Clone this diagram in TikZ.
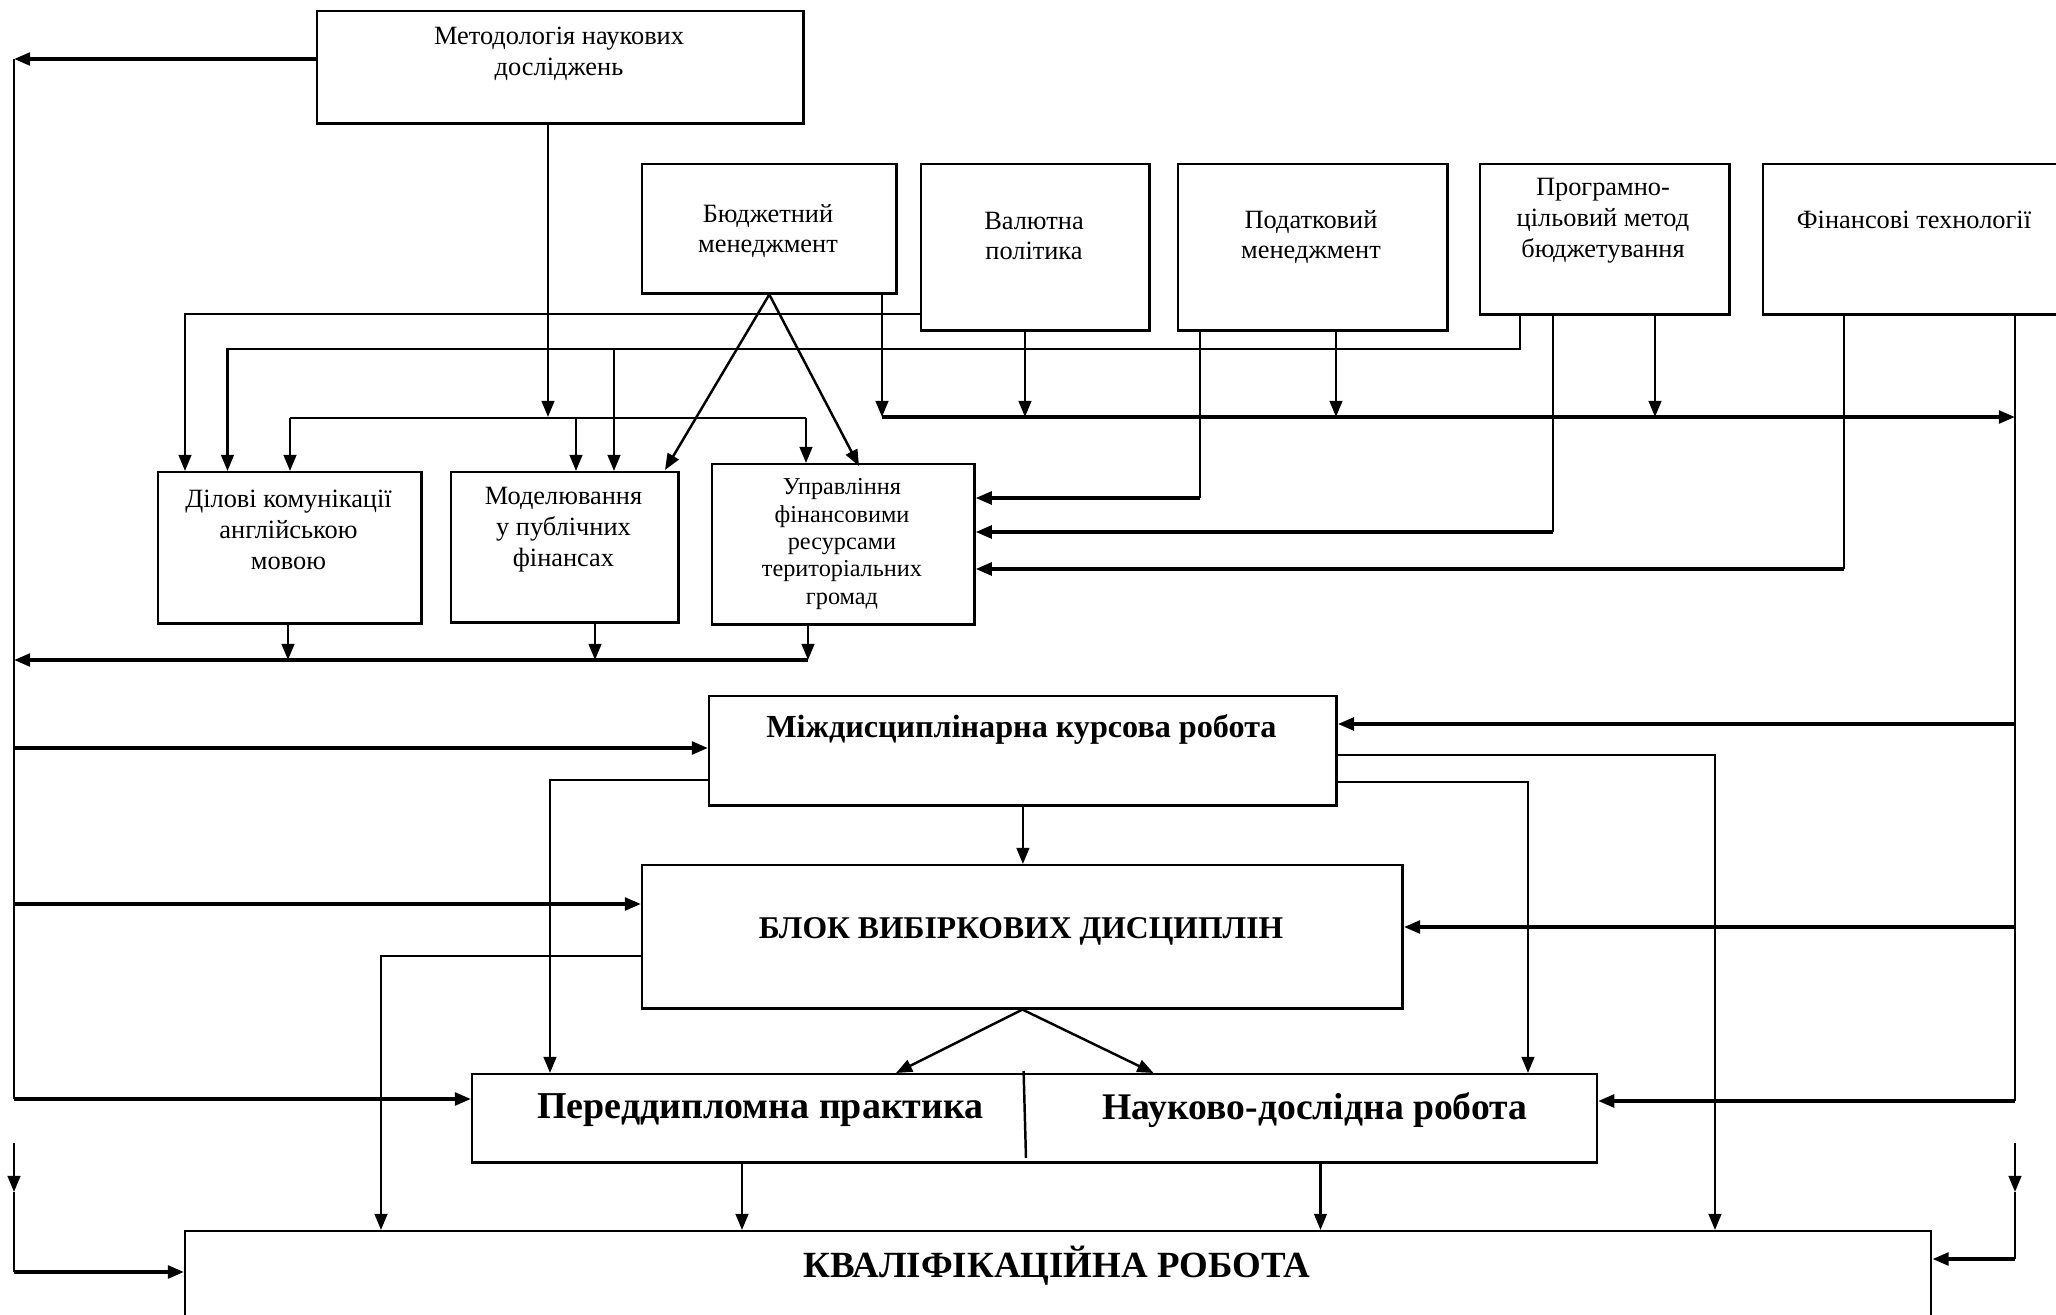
\documentclass[tikz,border=0pt]{standalone}
\usepackage{fontspec}
\setmainfont{Liberation Serif}
\usetikzlibrary{arrows.meta,calc}
\begin{document}
\begin{tikzpicture}[x=0.01cm,y=-0.01cm,
  box/.style={draw, line width=0.7pt, anchor=north west, inner sep=0pt},
  lbl/.style={align=center, font=\fontsize{7.5}{8.8}\selectfont, inner sep=0pt},
  lblsm/.style={align=center, font=\fontsize{6.9}{7.8}\selectfont, inner sep=0pt},
  bt/.style={inner sep=0pt, font=\bfseries\fontsize{#1}{#1}\selectfont},
  ln/.style={line width=0.7pt},
  hl/.style={line width=1pt},
  arr/.style={-{Triangle[length=4.6pt,width=3.6pt]}},
]
\clip (0,0) rectangle (2056,1315);
\fill[white] (0,0) rectangle (2056,1315);

% boxes
\node[box, minimum width=4.86cm, minimum height=1.12cm] (meth) at (316,10) {};
\node[box, minimum width=2.54cm, minimum height=1.29cm] (budg) at (641,163) {};
\node[box, minimum width=2.28cm, minimum height=1.66cm] (val) at (920,163) {};
\node[box, minimum width=2.69cm, minimum height=1.66cm] (tax) at (1177,163) {};
\node[box, minimum width=2.49cm, minimum height=1.50cm] (prog) at (1479,163) {};
\node[box, minimum width=3.04cm, minimum height=1.50cm] (fin) at (1762,163) {};
\node[box, minimum width=2.63cm, minimum height=1.51cm] (del) at (157,471) {};
\node[box, minimum width=2.27cm, minimum height=1.50cm] (mod) at (450,471) {};
\node[box, minimum width=2.62cm, minimum height=1.60cm] (upr) at (711,463) {};
\node[box, minimum width=6.27cm, minimum height=1.09cm] (mkr) at (708,695) {};
\node[box, minimum width=7.60cm, minimum height=1.43cm] (blok) at (641,864) {};
\node[box, minimum width=11.24cm, minimum height=0.88cm] (pp) at (471,1073) {};
\node[box, minimum width=17.45cm, minimum height=1.10cm] (kval) at (184,1230) {};

% labels
\node[lbl] (meth-t) at (559,54) {Методологія наукових\\досліджень};
\node[lbl] (budg-t) at (768,231) {Бюджетний\\менеджмент};
\node[lbl] (val-t) at (1034,236) {Валютна\\політика};
\node[lbl] (tax-t) at (1311,237) {Податковий\\менеджмент};
\node[lbl] (prog-t) at (1603,221) {Програмно-\\цільовий метод\\бюджетування};
\node[lbl] (fin-t) at (1914,220) {Фінансові технології};
\node[lbl] (del-t) at (288.5,529.5) {Ділові комунікації\\англійською\\мовою};
\node[lbl] (mod-t) at (563.5,529.5) {Моделювання\\у публічних\\фінансах};
\node[lblsm] (upr-t) at (842,544) {Управління\\фінансовими\\ресурсами\\територіальних\\громад};
\node[bt=9.15] (mkr-t) at (1021.5,729) {Міждисциплінарна курсова робота};
\node[bt=9.0] (blok-t) at (1021,931) {БЛОК ВИБІРКОВИХ ДИСЦИПЛІН};
\node[bt=10.8] (pp-t1) at (760.5,1110) {Переддипломна практика};
\node[bt=10.7] (pp-t2) at (1315,1110) {Науково-дослідна робота};
\node[bt=10.5] (kval-t) at (1057,1266) {КВАЛІФІКАЦІЙНА РОБОТА};

% divider inside pp
\draw[ln] (1023.6,1071) -- (1026,1158);

% left bus
\coordinate (L1) at (14,59);
\coordinate (L2) at (14,660);
\coordinate (L3) at (14,748);
\coordinate (L4) at (14,904);
\coordinate (L5) at (14,1099);
\coordinate (L5b) at (14,1143);
\coordinate (L5c) at (14,1192);
\coordinate (L6) at (14,1272);
\draw[hl,arr] (meth.west |- L1) -- (L1);
\draw[ln] (L1) -- (L5);
\draw[ln,arr] (L5b) -- (L5c);
\draw[ln] (L5c) -- (L6);
\draw[hl,arr] (L3) -- (mkr.west |- L3);
\draw[hl,arr] (L4) -- (blok.west |- L4);
\draw[hl,arr] (L5) -- (pp.west |- L5);
\draw[hl,arr] (L6) -- (kval.west |- L6);

% collection line under the three courses
\coordinate (c2d) at (288,660);
\coordinate (c2m) at (595,660);
\coordinate (C2) at (808,660);
\draw[ln,arr] (del.south -| c2d) -- (c2d);
\draw[ln,arr] (mod.south -| c2m) -- (c2m);
\draw[ln,arr] (upr.south -| C2) -- (C2);
\draw[hl,arr] (C2) -- (L2);

% from Валютна to Ділові
\coordinate (tv) at (185,314);
\draw[ln,arr] (val.west |- tv) -- (tv) -- (tv |- del.north);

% from Програмно to Ділові and Моделювання
\coordinate (tp) at (1520,349);
\coordinate (tp2) at (227.5,349);
\coordinate (tpm) at (614,349);
\draw[ln,arr] (prog.south -| tp) -- (tp) -- (tp2) -- (tp2 |- del.north);
\draw[ln,arr] (tpm) -- (tpm |- mod.north);

% from Методологія
\coordinate (tm) at (548,417);
\coordinate (tm1) at (290,418);
\coordinate (tm2) at (576,418);
\coordinate (tm3) at (806,418);
\draw[ln,arr] (meth.south -| tm) -- (tm);
\draw[ln] (tm1) -- (tm3);
\draw[ln,arr] (tm1) -- (tm1 |- del.north);
\draw[ln,arr] (tm2) -- (tm2 |- mod.north);
\draw[ln,arr] (tm3) -- (tm3 |- upr.north);

% long line to the right bus
\coordinate (r0s) at (882,417);
\coordinate (r0v) at (1025,417);
\coordinate (r0t) at (1336,417);
\coordinate (r0p) at (1655,417);
\coordinate (R0) at (2015,417);
\draw[ln,arr] (budg.south -| r0s) -- (r0s);
\draw[ln,arr] (val.south -| r0v) -- (r0v);
\draw[ln,arr] (tax.south -| r0t) -- (r0t);
\draw[ln,arr] (prog.south -| r0p) -- (r0p);
\draw[hl,arr] (r0s) -- (R0);

% Бюджетний diagonals
\coordinate (bd1) at (665,470);
\coordinate (bd2) at (859,466);
\draw[ln,arr] (budg.south) -- (bd1);
\draw[ln,arr] (budg.south) -- (bd2);

% into Управління from the right
\coordinate (u1) at (1200,498);
\coordinate (u2) at (1553,532);
\coordinate (u3) at (1844,569);
\draw[ln] (tax.south -| u1) -- (u1);
\draw[hl,arr] (u1) -- (upr.east |- u1);
\draw[ln] (prog.south -| u2) -- (u2);
\draw[hl,arr] (u2) -- (upr.east |- u2);
\draw[ln] (fin.south -| u3) -- (u3);
\draw[hl,arr] (u3) -- (upr.east |- u3);

% right bus
\coordinate (R1) at (2015,724);
\coordinate (R2) at (2015,927);
\coordinate (R3) at (2015,1101);
\coordinate (R3b) at (2015,1143);
\coordinate (R3c) at (2015,1192);
\coordinate (R4) at (2015,1259);
\draw[ln] (fin.south -| R0) -- (R3);
\draw[hl,arr] (R1) -- (mkr.east |- R1);
\draw[hl,arr] (R2) -- (blok.east |- R2);
\draw[hl,arr] (R3) -- (pp.east |- R3);
\draw[ln,arr] (R3b) -- (R3c);
\draw[ln] (R3c) -- (R4);
\draw[hl,arr] (R4) -- (kval.east |- R4);

% from Міждисциплінарна
\coordinate (m1) at (550,780);
\coordinate (m2) at (1715,755);
\coordinate (m3) at (1528,782);
\draw[ln,arr] (mkr.south) -- (mkr.south |- blok.north);
\draw[ln,arr] (mkr.west |- m1) -- (m1) -- (m1 |- pp.north);
\draw[ln,arr] (mkr.east |- m2) -- (m2) -- (m2 |- kval.north);
\draw[ln,arr] (mkr.east |- m3) -- (m3) -- (m3 |- pp.north);

% from БЛОК
\coordinate (b1) at (381,956);
\coordinate (b2) at (896,1073);
\coordinate (b3) at (1153.5,1073);
\draw[ln,arr] (blok.west |- b1) -- (b1) -- (b1 |- kval.north);
\draw[ln,arr] (blok.south) -- (b2);
\draw[ln,arr] (blok.south) -- (b3);

% from practice / research to the thesis
\coordinate (p1) at (742,1230);
\coordinate (p2) at (1320.5,1230);
\draw[ln,arr] (pp.south -| p1) -- (p1);
\draw[ln,arr] (pp.south -| p2) -- (p2);
\end{tikzpicture}
\end{document}
